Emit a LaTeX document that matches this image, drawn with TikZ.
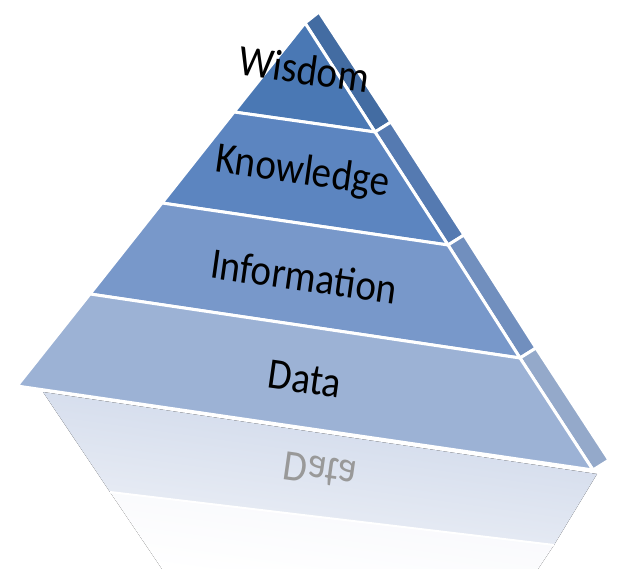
\documentclass[tikz,border=0pt]{standalone}
\usepackage{fontspec}
\setmainfont{Carlito}
\usetikzlibrary{calc}
\definecolor{cW}{RGB}{74,120,180}
\definecolor{cK}{RGB}{92,133,192}
\definecolor{cI}{RGB}{120,152,202}
\definecolor{cD}{RGB}{156,178,213}
\definecolor{rTop}{RGB}{204,214,233}
\definecolor{rMid}{RGB}{238,241,247}
\definecolor{rLow}{RGB}{246,247,251}
\begin{document}
\begin{tikzpicture}[x=1pt,y=-1pt,
  face/.style={draw=white,line width=3pt,line join=round},
  lbl/.style={font=\fontsize{39}{40}\selectfont,text=black,rotate=-8,yscale=1.12,anchor=base,inner sep=0pt},
  rlbl/.style={font=\fontsize{39}{40}\selectfont,rotate=-8,yscale=-1.12,anchor=base,inner sep=0pt}]
\useasboundingbox (0,0) rectangle (624,569);
% front face corners
\coordinate (A) at (305,23);
\coordinate (L1) at (234,112); \coordinate (R1) at (375,132);
\coordinate (L2) at (162,203); \coordinate (R2) at (448,245);
\coordinate (L3) at (90,294);  \coordinate (R3) at (520,358);
\coordinate (L4) at (17,386);  \coordinate (R4) at (593,470);
% reflection
\coordinate (F1) at (43,392); \coordinate (F2) at (597,474);
\coordinate (F3) at (554,545); \coordinate (F4) at (110,492);
\coordinate (F5) at (538,569); \coordinate (F6) at (162,569);
\fill[top color=rTop,bottom color=rMid,shading angle=-8] (F1) -- (F2) -- (F3) -- (F4) -- cycle;
\fill[top color=rLow,bottom color=white,shading angle=-8] (F4) -- (F3) -- (F5) -- (F6) -- cycle;
\draw[white,line width=2pt] (F4) -- (F3);
\node[rlbl,text=black!40] (rdata) at (322,457) {Data};
% side strips
\filldraw[face,fill=cW!90!black] (A) -- (R1) -- ($(R1)+(16,-10)$) -- ($(A)+(14,-11)$) -- cycle;
\filldraw[face,fill=cK!92!black] (R1) -- (R2) -- ($(R2)+(16,-10)$) -- ($(R1)+(16,-10)$) -- cycle;
\filldraw[face,fill=cI!94!black] (R2) -- (R3) -- ($(R3)+(16,-10)$) -- ($(R2)+(16,-10)$) -- cycle;
\filldraw[face,fill=cD!95!black] (R3) -- (R4) -- ($(R4)+(16,-10)$) -- ($(R3)+(16,-10)$) -- cycle;
% front layers
\filldraw[face,fill=cW] (A) -- (R1) -- (L1) -- cycle;
\filldraw[face,fill=cK] (L1) -- (R1) -- (R2) -- (L2) -- cycle;
\filldraw[face,fill=cI] (L2) -- (R2) -- (R3) -- (L3) -- cycle;
\filldraw[face,fill=cD] (L3) -- (R3) -- (R4) -- (L4) -- cycle;
% labels
\node[lbl] (wis) at (302,84) {Wisdom};
\node[lbl] (kno) at (301,184) {Knowledge};
\node[lbl] (inf) at (302,291) {Information};
\node[lbl] (dat) at (303,393) {Data};
\end{tikzpicture}
\end{document}
